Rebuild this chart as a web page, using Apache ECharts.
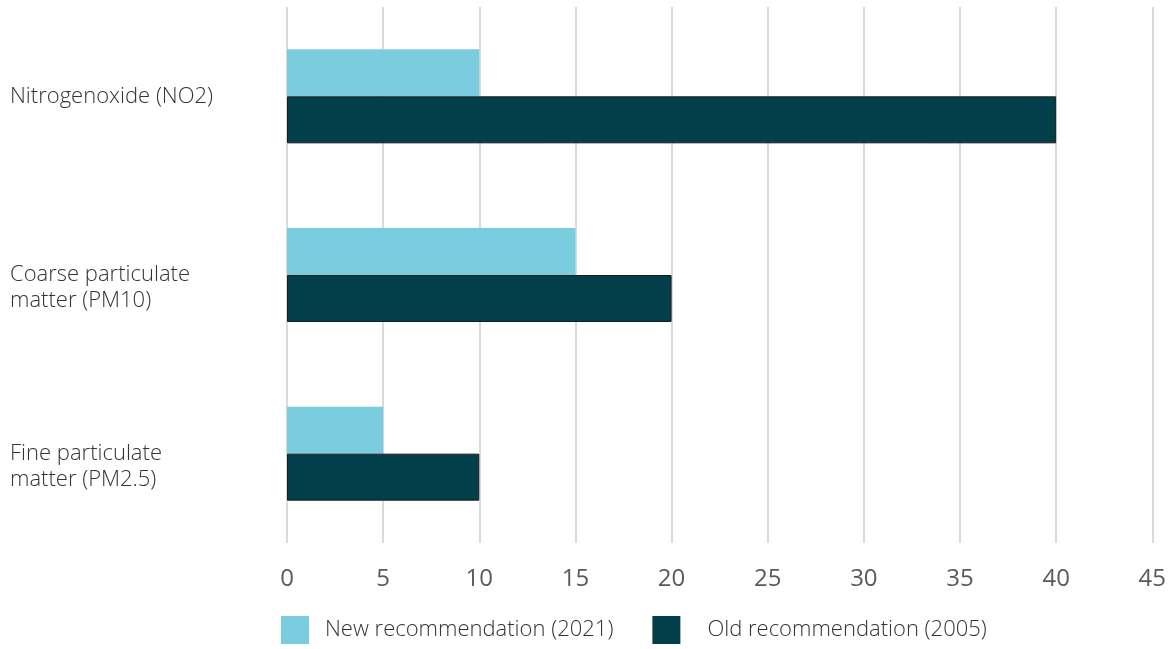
<!DOCTYPE html>
<html>
<head>
<meta charset="utf-8">
<script src="https://cdn.jsdelivr.net/npm/echarts@6/dist/echarts.min.js"></script>
<style>html,body{margin:0;padding:0;background:#fff}#c{width:1169px;height:649px}</style>
</head>
<body>
<div id="c"></div>
<script>
const categories = ['Nitrogenoxide (NO2)', 'Coarse particulate\nmatter (PM10)', 'Fine particulate\nmatter (PM2.5)'];
const seriesNames = ['New recommendation (2021)', 'Old recommendation (2005)'];
const newValues = [10, 15, 5];
const oldValues = [40, 20, 10];
const xTicks = { min: 0, max: 45, interval: 5 };

const chart = echarts.init(document.getElementById('c'), null, { renderer: 'canvas' });
const font = '"Open Sans", "Noto Sans", sans-serif';
chart.setOption({
  backgroundColor: '#fff',
  animation: false,
  grid: { left: 287, right: 16, top: 7, bottom: 106, containLabel: false },
  legend: {
    left: 281, top: 616, padding: 0,
    itemWidth: 28, itemHeight: 28, itemGap: 39,
    icon: 'rect',
    itemStyle: { borderWidth: 0 },
    textStyle: { fontFamily: font, fontSize: 22, fontWeight: 300, color: '#333', padding: [0, 0, 0, 11] },
    data: [
      { name: seriesNames[0] },
      { name: seriesNames[1], textStyle: { padding: [0, 0, 0, 22] } }
    ]
  },
  xAxis: {
    type: 'value', min: xTicks.min, max: xTicks.max, interval: xTicks.interval,
    axisLine: { show: false }, axisTick: { show: false },
    splitLine: { show: true, lineStyle: { color: '#dadada', width: 2 } },
    axisLabel: { fontFamily: font, fontSize: 24, fontWeight: 400, color: '#5a5a5a', margin: 24 }
  },
  yAxis: {
    type: 'category', inverse: true, data: categories,
    axisLine: { show: false }, axisTick: { show: false },
    axisLabel: {
      align: 'left', margin: 277, fontFamily: font, fontSize: 22, fontWeight: 300, color: '#333',
      lineHeight: 26, verticalAlign: 'middle',
      formatter: v => v.indexOf('\n') < 0 ? v : '\n' + v
    }
  },
  series: [
    { name: seriesNames[0], type: 'bar', data: newValues, barWidth: 47, barGap: '0%',
      itemStyle: { color: '#7acdde' } },
    { name: seriesNames[1], type: 'bar', data: oldValues, barWidth: 47, barGap: '0%',
      itemStyle: { color: '#023f4a', borderColor: '#1c1c1c', borderWidth: 1 } }
  ]
});
</script>
</body>
</html>
